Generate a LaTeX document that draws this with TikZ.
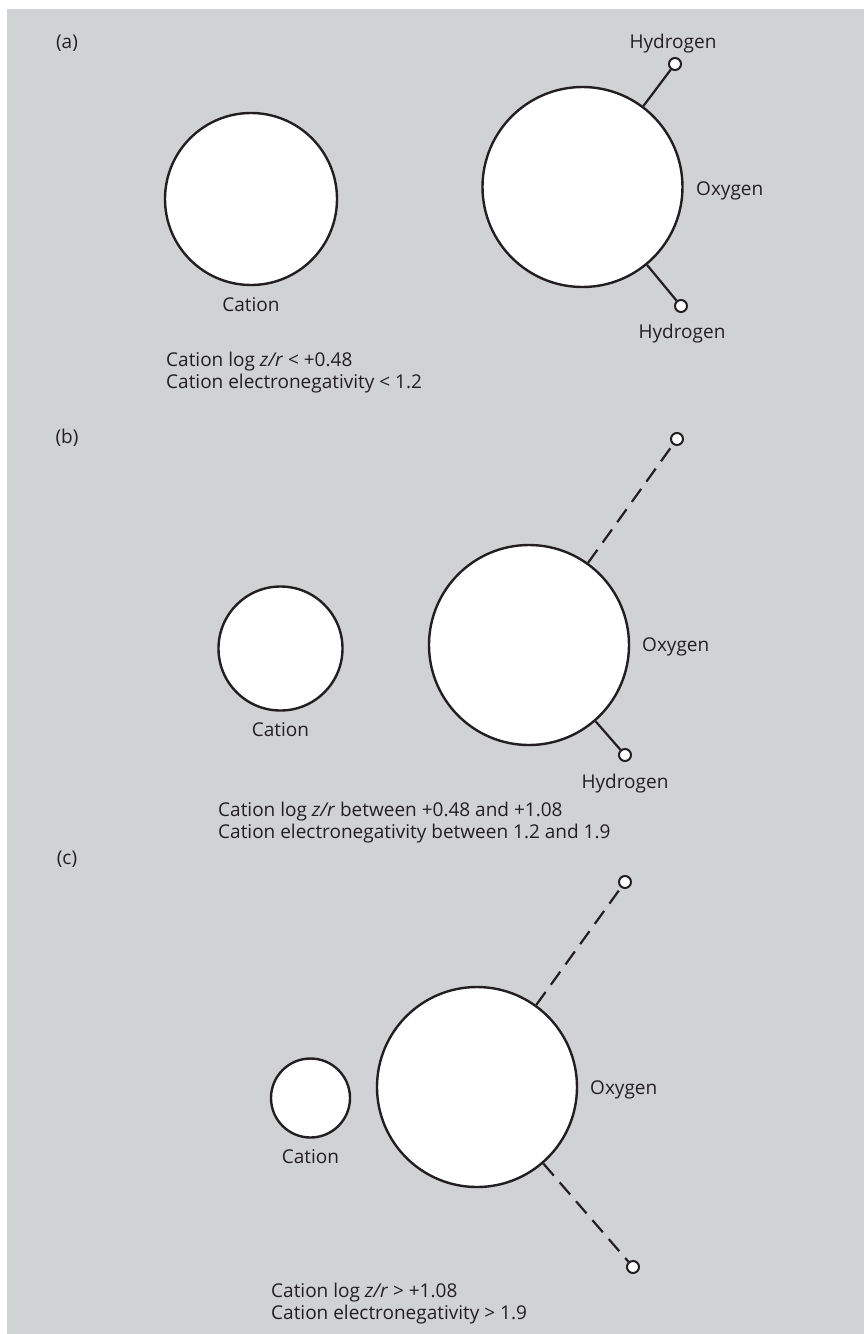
\documentclass[tikz,border=0pt]{standalone}
\usepackage{fontspec}
\setmainfont{Open Sans}
\usetikzlibrary{positioning}

\definecolor{panelgray}{HTML}{D1D2D4}
\definecolor{inkgray}{HTML}{231F20}

\begin{document}
\begin{tikzpicture}[
    x=1pt, y=-1pt,
    atom/.style={draw=inkgray, circle, fill=white, line width=2.4pt, inner sep=0pt},
    hyd/.style={draw=inkgray, circle, fill=white, line width=2pt, inner sep=0pt, minimum size=12pt},
    bond/.style={draw=inkgray, line width=2.2pt},
    hbond/.style={bond, dash pattern=on 16pt off 9pt},
    lbl/.style={inner sep=0pt, text=inkgray, font=\fontsize{19}{22}\selectfont},
    cond/.style={lbl, align=left, anchor=west}
  ]
    \useasboundingbox (0,0) rectangle (864,1334);
    \fill[panelgray] (7,9) rectangle (864,1334);

    % (a)
    \node[lbl, anchor=base] (taga) at (67,48) {(a)};
    \node[atom, minimum size=172pt] (cat1) at (251,199) {};
    \node[lbl, below=11pt of cat1] (catlbl1) {Cation};
    \node[atom, minimum size=200pt] (ox1) at (582.5,187) {};
    \node[lbl, anchor=base west] (oxlbl1) at (696,195) {Oxygen};
    \node[hyd] (h1) at (675,64) {};
    \node[hyd] (h2) at (681,306) {};
    \node[lbl, anchor=base] (hlbl1) at (673,48) {Hydrogen};
    \node[lbl, anchor=base] (hlbl2) at (682,338) {Hydrogen};
    \draw[bond] (ox1) -- (h1);
    \draw[bond] (ox1) -- (h2);
    \node[cond] (conda) at (166,373) {Cation log \textit{z/r} < +0.48\\Cation electronegativity < 1.2};

    % (b)
    \node[lbl, anchor=base] (tagb) at (67,443) {(b)};
    \node[atom, minimum size=124pt] (cat2) at (280.5,648.5) {};
    \node[lbl, below=11pt of cat2] (catlbl2) {Cation};
    \node[atom, minimum size=200pt] (ox2) at (529,645) {};
    \node[lbl, anchor=base west] (oxlbl2) at (642,651) {Oxygen};
    \node[hyd] (h3) at (677,439) {};
    \node[hyd] (h4) at (625,755) {};
    \node[lbl, anchor=base] (hlbl3) at (625,788) {Hydrogen};
    \draw[hbond] (ox2) -- (h3);
    \draw[bond] (ox2) -- (h4);
    \node[cond] (condb) at (218,823) {Cation log \textit{z/r} between +0.48 and +1.08\\Cation electronegativity between 1.2 and 1.9};

    % (c)
    \node[lbl, anchor=base] (tagc) at (67,864) {(c)};
    \node[atom, minimum size=79pt] (cat3) at (310.5,1098) {};
    \node[lbl, below=11pt of cat3] (catlbl3) {Cation};
    \node[atom, minimum size=200pt] (ox3) at (477,1087) {};
    \node[lbl, anchor=base west] (oxlbl3) at (590,1094) {Oxygen};
    \node[hyd] (h5) at (625,882) {};
    \node[hyd] (h6) at (633,1267) {};
    \draw[hbond] (ox3) -- (h5);
    \draw[hbond] (ox3) -- (h6);
    \node[cond] (condc) at (271,1304) {Cation log \textit{z/r} > +1.08\\Cation electronegativity > 1.9};
  \end{tikzpicture}
\end{document}
